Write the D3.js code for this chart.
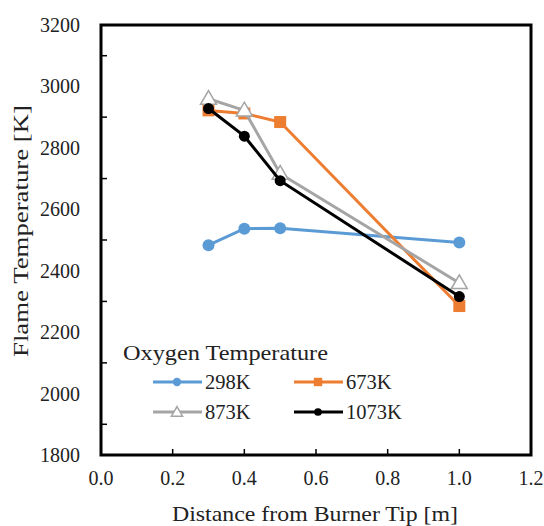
<!DOCTYPE html>
<html>
<head>
<meta charset="utf-8">
<script src="https://cdn.jsdelivr.net/npm/d3@7"></script>
<style>
  body { margin: 0; background: #fff; }
  text { font-family: "Liberation Serif", "Times New Roman", serif; fill: #222; }
</style>
</head>
<body>
<div class="canvas"></div>
<script>
// data
const distances = [0.3, 0.4, 0.5, 1.0];
const seriesNames = ["298K", "673K", "873K", "1073K"];
const temp298 = [2483, 2537, 2538, 2492];
const temp673 = [2922, 2912, 2884, 2285];
const temp873 = [2960, 2922, 2716, 2360];
const temp1073 = [2928, 2838, 2693, 2316];
const xTicks = [0.0, 0.2, 0.4, 0.6, 0.8, 1.0, 1.2];
const yTicks = [1800, 2000, 2200, 2400, 2600, 2800, 3000, 3200];

// dimensions
const dims = { width: 544, height: 526 };
const plot = { left: 101, top: 25, right: 531, bottom: 455 };

const svg = d3
  .select(".canvas")
  .append("svg")
  .attr("width", dims.width)
  .attr("height", dims.height);

const x = d3.scaleLinear().domain([0, 1.2]).range([plot.left, plot.right]);
const y = d3.scaleLinear().domain([1800, 3200]).range([plot.bottom, plot.top]);

// frame
svg
  .append("rect")
  .attr("x", plot.left)
  .attr("y", plot.top)
  .attr("width", plot.right - plot.left)
  .attr("height", plot.bottom - plot.top)
  .attr("fill", "none")
  .attr("stroke", "#000")
  .attr("stroke-width", 3);

// inner ticks
svg
  .append("g")
  .selectAll("line")
  .data(d3.range(1900, 3200, 200))
  .join("line")
  .attr("x1", plot.left)
  .attr("x2", plot.left + 6)
  .attr("y1", d => y(d))
  .attr("y2", d => y(d))
  .attr("stroke", "#000")
  .attr("stroke-width", 1.5);

svg
  .append("g")
  .selectAll("line")
  .data(xTicks.slice(1, -1))
  .join("line")
  .attr("x1", d => x(d))
  .attr("x2", d => x(d))
  .attr("y1", plot.bottom)
  .attr("y2", plot.bottom - 6)
  .attr("stroke", "#000")
  .attr("stroke-width", 1.5);

// tick labels
svg
  .append("g")
  .selectAll("text")
  .data(yTicks)
  .join("text")
  .attr("x", 80)
  .attr("y", d => y(d))
  .attr("dy", "0.35em")
  .attr("text-anchor", "end")
  .attr("font-size", 20)
  .text(d => d);

svg
  .append("g")
  .selectAll("text")
  .data(xTicks)
  .join("text")
  .attr("x", d => x(d))
  .attr("y", 478)
  .attr("dy", "0.35em")
  .attr("text-anchor", "middle")
  .attr("font-size", 20)
  .text(d => d.toFixed(1));

// axis titles
svg
  .append("text")
  .attr("x", 315)
  .attr("y", 513)
  .attr("dy", "0.35em")
  .attr("text-anchor", "middle")
  .attr("font-size", 22)
  .attr("textLength", 286)
  .attr("lengthAdjust", "spacingAndGlyphs")
  .text("Distance from Burner Tip [m]");

svg
  .append("text")
  .attr("transform", "translate(20, 231) rotate(-90)")
  .attr("dy", "0.35em")
  .attr("text-anchor", "middle")
  .attr("font-size", 22)
  .attr("textLength", 252)
  .attr("lengthAdjust", "spacingAndGlyphs")
  .text("Flame Temperature  [K]");

// series
const series = [
  { name: seriesNames[0], values: temp298, color: "#5B9BD5", shape: "circle" },
  { name: seriesNames[1], values: temp673, color: "#ED7D31", shape: "square" },
  { name: seriesNames[2], values: temp873, color: "#A5A5A5", shape: "triangle" },
  { name: seriesNames[3], values: temp1073, color: "#000000", shape: "dot" }
];

const line = d3
  .line()
  .x(d => x(d[0]))
  .y(d => y(d[1]));

const drawMarker = (g, s, cx, cy, scale) => {
  if (s.shape === "circle") {
    g.append("circle").attr("cx", cx).attr("cy", cy).attr("r", 6 * scale).attr("fill", s.color);
  } else if (s.shape === "dot") {
    g.append("circle").attr("cx", cx).attr("cy", cy).attr("r", 5.5 * scale).attr("fill", s.color);
  } else if (s.shape === "square") {
    const h = 6 * scale;
    g.append("rect")
      .attr("x", cx - h)
      .attr("y", cy - h)
      .attr("width", 2 * h)
      .attr("height", 2 * h)
      .attr("fill", s.color);
  } else {
    const sym = d3.symbol().type(d3.symbolTriangle).size(110 * scale * scale);
    g.append("path")
      .attr("d", sym())
      .attr("transform", `translate(${cx},${cy + 1})`)
      .attr("fill", "#fff")
      .attr("stroke", s.color)
      .attr("stroke-width", 1.5);
  }
};

series.forEach(s => {
  const g = svg.append("g");
  const pts = distances.map((d, i) => [d, s.values[i]]);
  g.append("path")
    .attr("d", line(pts))
    .attr("fill", "none")
    .attr("stroke", s.color)
    .attr("stroke-width", 3);
  pts.forEach(p => drawMarker(g, s, x(p[0]), y(p[1]), 1));
});

// legend
const legend = svg.append("g");
legend
  .append("text")
  .attr("x", 123)
  .attr("y", 353)
  .attr("dy", "0.35em")
  .attr("font-size", 21)
  .attr("textLength", 205)
  .attr("lengthAdjust", "spacingAndGlyphs")
  .text("Oxygen Temperature");

const legendPos = [
  { x: 153, y: 382 },
  { x: 294, y: 382 },
  { x: 153, y: 412 },
  { x: 294, y: 412 }
];

series.forEach((s, i) => {
  const p = legendPos[i];
  const g = legend.append("g");
  g.append("line")
    .attr("x1", p.x)
    .attr("x2", p.x + 49)
    .attr("y1", p.y)
    .attr("y2", p.y)
    .attr("stroke", s.color)
    .attr("stroke-width", 3);
  drawMarker(g, s, p.x + 24, p.y, 0.7);
  g.append("text")
    .attr("x", p.x + 52)
    .attr("y", p.y)
    .attr("dy", "0.35em")
    .attr("font-size", 20.5)
    .text(s.name);
});
</script>
</body>
</html>
